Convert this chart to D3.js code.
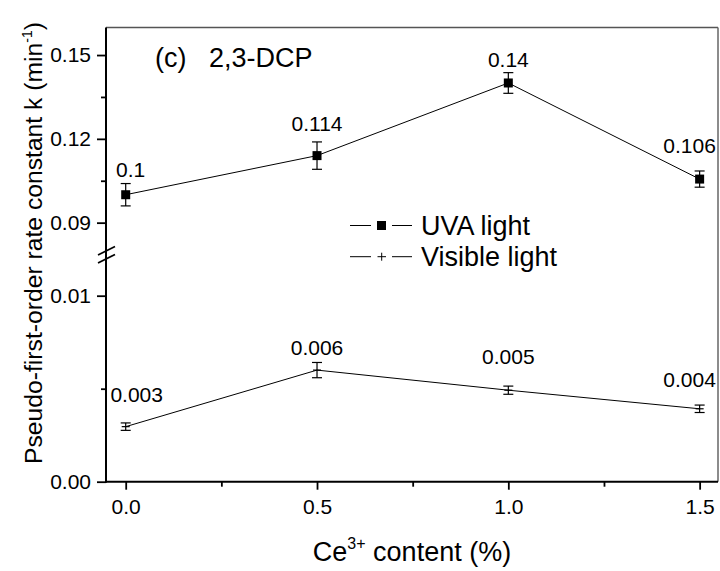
<!DOCTYPE html>
<html><head><meta charset="utf-8">
<script src="https://cdn.jsdelivr.net/npm/d3@7"></script>
<style>body{margin:0;background:#fff}svg{display:block;font-family:"Liberation Sans",Arial,sans-serif}</style>
</head><body>
<svg id="c" width="720" height="571"></svg>
<script>
// ---- data ----
const ceContent = [0.0, 0.5, 1.0, 1.5];
const uvaK = [0.1, 0.114, 0.14, 0.1056];
const uvaErr = [0.004, 0.0049, 0.0037, 0.0029];
const uvaLabels = ["0.1", "0.114", "0.14", "0.106"];
const visK = [0.00296, 0.006, 0.00492, 0.00392];
const visErr = [0.0002, 0.00041, 0.00022, 0.0002];
const visLabels = ["0.003", "0.006", "0.005", "0.004"];
const xTicks = [0.0, 0.5, 1.0, 1.5];
const xMinor = [0.25, 0.75, 1.25];
const yUpperTicks = [0.09, 0.12, 0.15];
const yUpperMinor = [0.105, 0.135];
const yLowerTicks = [0.00, 0.01];
const yLowerMinor = [0.005];

const svg = d3.select("#c");
const L = 106, R = 718, T = 27.5, B = 481.7;
const x = d3.scaleLinear().domain([-0.0515, 1.548]).range([L, R]);
const yU = d3.scaleLinear().domain([0.08, 0.16]).range([250.6, 27.1]);
const yL = d3.scaleLinear().domain([0, 0.012]).range([B, 258.5]);

// frame
svg.append("line").attr("x1", L).attr("x2", R).attr("y1", T).attr("y2", T).attr("stroke", "#555").attr("stroke-width", 1.5);
svg.append("line").attr("x1", R).attr("x2", R).attr("y1", T).attr("y2", B).attr("stroke", "#666").attr("stroke-width", 1.5);

// x axis
const xAxis = d3.axisBottom(x).tickValues(xTicks).tickFormat(d3.format(".1f")).tickSize(8).tickSizeOuter(0);
const gx = svg.append("g").attr("transform", `translate(0,${B})`).call(xAxis);
gx.select(".domain").attr("d", `M${L},0H${R}`).attr("stroke", "#000").attr("stroke-width", 2);
gx.selectAll(".tick line").attr("stroke-width", 1.8);
gx.selectAll(".tick text").attr("font-size", 21).attr("fill", "#000").attr("dy", "0").attr("y", 32).attr("font-family", "Liberation Sans, Arial, sans-serif");
const gxm = svg.append("g").attr("transform", `translate(0,${B})`).call(d3.axisBottom(x).tickValues(xMinor).tickFormat("").tickSize(5).tickSizeOuter(0));
gxm.select(".domain").remove();
gxm.selectAll(".tick line").attr("stroke-width", 1.8);

// y axis (upper and lower)
function yAxisPart(scale, ticks, minor, fmt) {
  const g = svg.append("g").attr("transform", `translate(${L},0)`).call(d3.axisLeft(scale).tickValues(ticks).tickFormat(fmt).tickSize(9).tickSizeOuter(0));
  g.select(".domain").remove();
  g.selectAll(".tick line").attr("stroke-width", 1.8);
  g.selectAll(".tick text").attr("font-size", 21).attr("fill", "#000").attr("x", -15).attr("font-family", "Liberation Sans, Arial, sans-serif");
  const gm = svg.append("g").attr("transform", `translate(${L},0)`).call(d3.axisLeft(scale).tickValues(minor).tickFormat("").tickSize(5).tickSizeOuter(0));
  gm.select(".domain").remove();
  gm.selectAll(".tick line").attr("stroke-width", 1.8);
}
yAxisPart(yU, yUpperTicks, yUpperMinor, d3.format(".2f"));
yAxisPart(yL, yLowerTicks, yLowerMinor, d3.format(".2f"));
svg.append("line").attr("x1", L).attr("x2", L).attr("y1", T).attr("y2", B + 1).attr("stroke", "#000").attr("stroke-width", 2);
// break marks
[0, 8].forEach(o => {
  svg.append("line").attr("x1", L - 8).attr("y1", 255 + o).attr("x2", L + 9).attr("y2", 246.5 + o).attr("stroke", "#000").attr("stroke-width", 1.8);
});

// series
function drawSeries(scale, vals, errs, labels, marker, lblDy, lblDx) {
  const line = d3.line().x((d, i) => x(ceContent[i])).y(d => scale(d));
  svg.append("path").attr("d", line(vals)).attr("fill", "none").attr("stroke", "#000").attr("stroke-width", 1);
  vals.forEach((v, i) => {
    const cx = x(ceContent[i]);
    const top = scale(v + errs[i]), bot = scale(v - errs[i]);
    const g = svg.append("g").attr("stroke", "#000").attr("stroke-width", 1.2);
    g.append("line").attr("x1", cx).attr("x2", cx).attr("y1", top).attr("y2", bot);
    g.append("line").attr("x1", cx - 5).attr("x2", cx + 5).attr("y1", top).attr("y2", top);
    g.append("line").attr("x1", cx - 5).attr("x2", cx + 5).attr("y1", bot).attr("y2", bot);
    if (marker === "square") {
      svg.append("rect").attr("x", cx - 4.5).attr("y", scale(v) - 4.5).attr("width", 9).attr("height", 9).attr("fill", "#000");
    } else {
      g.append("line").attr("x1", cx - 4).attr("x2", cx + 4).attr("y1", scale(v)).attr("y2", scale(v));
    }
    svg.append("text").attr("x", cx + lblDx[i]).attr("y", top - lblDy[i]).attr("text-anchor", "middle").attr("font-size", 21).text(labels[i]);
  });
}
drawSeries(yU, uvaK, uvaErr, uvaLabels, "square", [6.6, 11, 5.4, 18], [5, 0, 0, -10]);
drawSeries(yL, visK, visErr, visLabels, "plus", [21, 7, 22, 18], [11, 0, 0, -10]);

// panel label
svg.append("text").attr("x", 155).attr("y", 67).attr("font-size", 27).text("(c)");
svg.append("text").attr("x", 209).attr("y", 67).attr("font-size", 27).text("2,3-DCP");

// legend
const legend = [{name: "UVA light", m: "square", y: 225.5}, {name: "Visible light", m: "plus", y: 256.7}];
legend.forEach(d => {
  svg.append("line").attr("x1", 350).attr("x2", 371).attr("y1", d.y).attr("y2", d.y).attr("stroke", "#000").attr("stroke-width", 1);
  svg.append("line").attr("x1", 392).attr("x2", 412).attr("y1", d.y).attr("y2", d.y).attr("stroke", "#000").attr("stroke-width", 1);
  if (d.m === "square") svg.append("rect").attr("x", 377).attr("y", d.y - 4.5).attr("width", 9).attr("height", 9).attr("fill", "#000");
  else {
    svg.append("line").attr("x1", 377.5).attr("x2", 386).attr("y1", d.y).attr("y2", d.y).attr("stroke", "#000");
    svg.append("line").attr("x1", 381.7).attr("x2", 381.7).attr("y1", d.y - 4).attr("y2", d.y + 4).attr("stroke", "#000");
  }
  svg.append("text").attr("x", 421).attr("y", d.y + 9.5).attr("font-size", 27).text(d.name);
});

// axis titles
const xt = svg.append("text").attr("x", 412).attr("y", 561).attr("text-anchor", "middle").attr("font-size", 27);
xt.append("tspan").text("Ce");
xt.append("tspan").attr("font-size", 16).attr("dy", -12).text("3+");
xt.append("tspan").attr("dy", 12).text(" content (%)");

const yt = svg.append("text").attr("transform", "translate(42,243) rotate(-90)").attr("text-anchor", "middle").attr("font-size", 24.7);
yt.append("tspan").text("Pseudo-first-order rate constant k (min");
yt.append("tspan").attr("font-size", 14).attr("dy", -10).text("-1");
yt.append("tspan").attr("dy", 10).text(")");
</script>
</body></html>
